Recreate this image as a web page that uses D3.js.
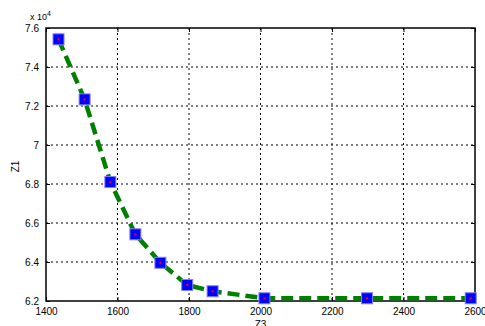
<!DOCTYPE html>
<html>
<head>
<meta charset="utf-8">
<script src="https://cdn.jsdelivr.net/npm/d3@7"></script>
<style>
  body { margin: 0; background: #fff; }
  text { font-family: "Liberation Sans", Arial, sans-serif; }
</style>
</head>
<body>
<div id="chart"></div>
<script>
// Data
const z3 = [1435, 1508, 1580, 1650, 1720, 1795, 1866, 2011, 2298, 2588];
const z1 = [75420, 72340, 68100, 65420, 63960, 62820, 62500, 62140, 62140, 62140];
const xTicks = [1400, 1600, 1800, 2000, 2200, 2400, 2600];
const yTicks = [62000, 64000, 66000, 68000, 70000, 72000, 74000, 76000];

const W = 485, H = 326;
const margin = { top: 28, right: 10, bottom: 25, left: 46 };
const width = W - margin.left - margin.right;
const height = H - margin.top - margin.bottom;

const x = d3.scaleLinear().domain([1400, 2600]).range([0, width]);
const y = d3.scaleLinear().domain([62000, 76000]).range([height, 0]);

const svg = d3.select('#chart')
  .append('svg')
  .attr('width', W)
  .attr('height', H)
  .append('g')
  .attr('transform', `translate(${margin.left},${margin.top})`);

// grid
svg.append('g')
  .selectAll('line')
  .data(xTicks.slice(1, -1))
  .join('line')
  .attr('x1', d => x(d)).attr('x2', d => x(d))
  .attr('y1', 0).attr('y2', height)
  .attr('stroke', '#000').attr('stroke-width', 1)
  .attr('stroke-dasharray', '2,3');

svg.append('g')
  .selectAll('line')
  .data(yTicks.slice(1, -1))
  .join('line')
  .attr('x1', 0).attr('x2', width)
  .attr('y1', d => y(d)).attr('y2', d => y(d))
  .attr('stroke', '#000').attr('stroke-width', 1)
  .attr('stroke-dasharray', '2,3');

// axes
const xAxis = svg.append('g')
  .attr('transform', `translate(0,${height})`)
  .call(d3.axisBottom(x).tickValues(xTicks).tickSize(-4).tickPadding(7).tickFormat(d3.format('d')));
const yAxis = svg.append('g')
  .call(d3.axisLeft(y).tickValues(yTicks).tickSize(-4).tickPadding(7).tickFormat(d => d / 10000));
[xAxis, yAxis].forEach(a => {
  a.select('.domain').remove();
  a.selectAll('text').attr('font-size', 10).attr('fill', '#000')
    .style('font-family', '"Liberation Sans", Arial, sans-serif');
});
svg.append('g')
  .attr('transform', `translate(${width},0)`)
  .call(d3.axisRight(y).tickValues(yTicks).tickSize(-4).tickFormat(''))
  .select('.domain').remove();
svg.append('g')
  .call(d3.axisTop(x).tickValues(xTicks).tickSize(-4).tickFormat(''))
  .select('.domain').remove();

svg.append('rect')
  .attr('width', width).attr('height', height)
  .attr('fill', 'none').attr('stroke', '#000').attr('stroke-width', 1.5);

// line
const line = d3.line().x((d, i) => x(z3[i])).y(d => y(d));
svg.append('path')
  .datum(z1)
  .attr('d', line)
  .attr('fill', 'none')
  .attr('stroke', '#008000')
  .attr('stroke-width', 4.5)
  .attr('stroke-dasharray', '12,6');

// markers
const pts = svg.append('g').selectAll('g')
  .data(z1)
  .join('g')
  .attr('transform', (d, i) => `translate(${x(z3[i])},${y(d)})`);
pts.append('rect')
  .attr('x', -5.5).attr('y', -5.5).attr('width', 11).attr('height', 11)
  .attr('fill', '#0000ff').attr('stroke', '#8080ff').attr('stroke-width', 1);
pts.append('rect')
  .attr('x', -1).attr('y', -1).attr('width', 2).attr('height', 2)
  .attr('fill', '#ff0000');

// labels
svg.append('text')
  .attr('x', x(2000)).attr('y', height + 27)
  .attr('text-anchor', 'middle').attr('font-size', 10)
  .text('Z3');
svg.append('text')
  .attr('transform', `translate(${-27},${height / 2 + 2}) rotate(-90)`)
  .attr('text-anchor', 'middle').attr('font-size', 10)
  .text('Z1');
const mult = svg.append('text')
  .attr('x', -16).attr('y', -8)
  .attr('font-size', 9);
mult.append('tspan').text('x 10');
mult.append('tspan').attr('dy', -4).attr('font-size', 7).text('4');
</script>
</body>
</html>
